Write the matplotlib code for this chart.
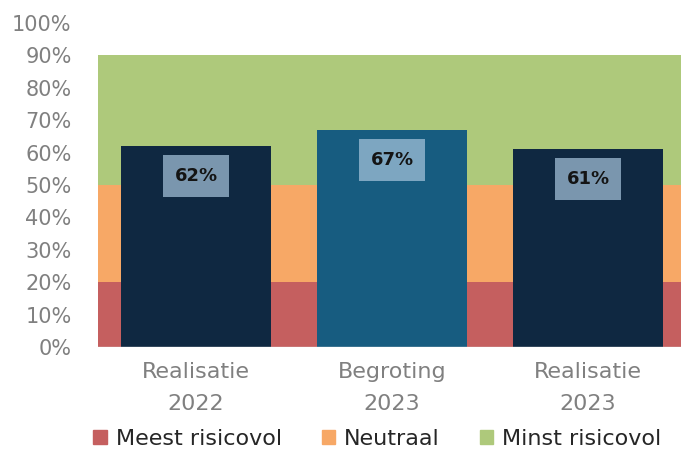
import numpy as np
import matplotlib.pyplot as plt
from matplotlib.patches import Patch

plt.rcParams['font.family'] = ['DejaVu Sans']

categories = ["Realisatie\n2022", "Begroting\n2023", "Realisatie\n2023"]
bar_values = [0.62, 0.67, 0.61]
bar_colors = ["#0F2841", "#175C80", "#0F2841"]

# background bands (stacked)
band_names = ["Meest risicovol", "Neutraal", "Minst risicovol"]
band_values = [0.20, 0.30, 0.40]
band_colors = ["#C55F5F", "#F7A866", "#AEC97B"]

fig = plt.figure(figsize=(6.81, 4.5), dpi=100)
ax = fig.add_axes([98 / 681, 1 - 347 / 450, 588 / 681, 324 / 450])

x = np.arange(len(categories))
bottom = np.zeros(len(categories))
for name, val, col in zip(band_names, band_values, band_colors):
    ax.bar(x, [val] * len(categories), bottom=bottom, width=1.0, color=col,
           label=name, zorder=1)
    bottom += val

bars = ax.bar(x, bar_values, width=0.77, color=bar_colors, zorder=2)
for b, v in zip(bars, bar_values):
    ax.annotate(f"{v:.0%}", (b.get_x() + b.get_width() / 2, v),
                xytext=(0, -21.5), textcoords="offset points",
                ha="center", va="center", fontsize=13, color="#141414",
                fontweight="bold", zorder=3,
                bbox=dict(boxstyle="square,pad=0.65", fc="#A9C6DD", ec="none",
                          alpha=0.7))

ax.set_xlim(-0.5, 2.5)
ax.set_ylim(0, 1.0)
ticks = np.arange(0, 1.01, 0.1)
ax.set_yticks(ticks)
ax.set_yticklabels([f"{int(round(t * 100))}%" for t in ticks])
ax.set_xticks(x)
ax.set_xticklabels(categories, linespacing=1.75)
ax.tick_params(axis="y", length=0, labelsize=15, labelcolor="#808080", pad=19)
ax.tick_params(axis="x", length=0, labelsize=16, labelcolor="#808080", pad=11)
for s in ax.spines.values():
    s.set_visible(False)
ax.axhline(0, color="#D9D9D9", lw=1, zorder=4)

handles = [Patch(color=c, label=n) for n, c in zip(band_names, band_colors)]
fig.legend(handles=handles, loc="center", bbox_to_anchor=(0.554, 0.025),
           ncol=3, frameon=False, fontsize=16, handlelength=0.6,
           handleheight=0.6, handletextpad=0.4, columnspacing=1.8,
           labelcolor="#262626")

fig.savefig("out.png", dpi=100)
